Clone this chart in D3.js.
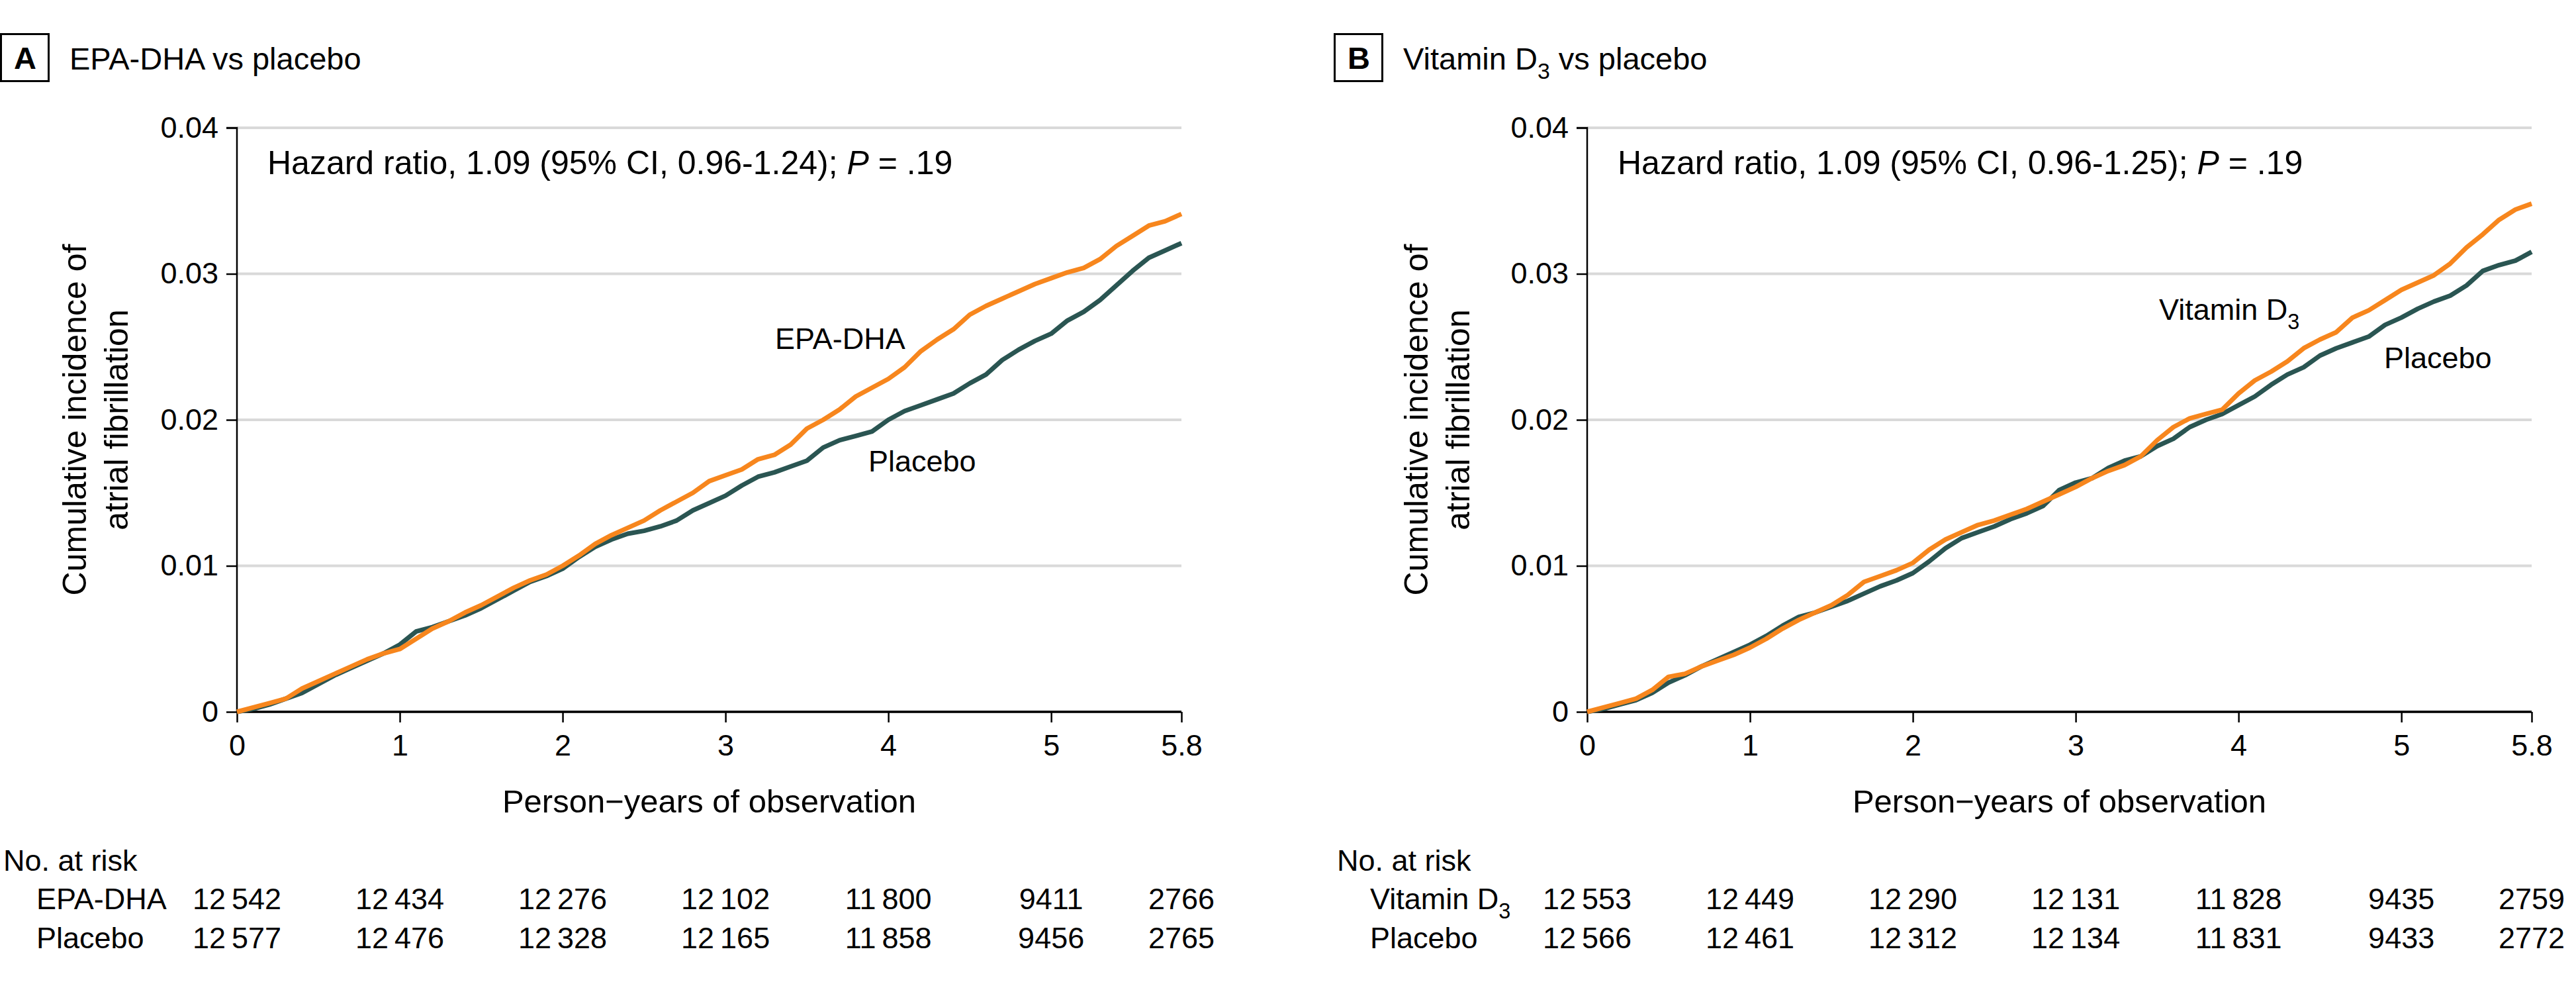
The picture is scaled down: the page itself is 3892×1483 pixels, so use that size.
<!DOCTYPE html>
<html><head><meta charset="utf-8">
<script src="https://cdn.jsdelivr.net/npm/d3@7"></script>
<style>
html,body{margin:0;padding:0;background:#fff;}
svg{display:block;font-family:"Liberation Sans",Arial,sans-serif;}
</style></head><body>
<svg id="chart" width="3892" height="1483"></svg>
<script>
// ---------- DATA ----------
const timePoints = [0,0.1,0.2,0.3,0.4,0.5,0.6,0.7,0.8,0.9,1.0,1.1,1.2,1.3,1.4,1.5,1.6,1.7,1.8,1.9,2.0,2.1,2.2,2.3,2.4,2.5,2.6,2.7,2.8,2.9,3.0,3.1,3.2,3.3,3.4,3.5,3.6,3.7,3.8,3.9,4.0,4.1,4.2,4.3,4.4,4.5,4.6,4.7,4.8,4.9,5.0,5.1,5.2,5.3,5.4,5.5,5.6,5.7,5.8];

const epaDha = [0,0.0003,0.0006,0.0009,0.0016,0.0021,0.0026,0.0031,0.0036,0.0040,0.0043,0.0050,0.0057,0.0062,0.0068,0.0073,0.0079,0.0085,0.0090,0.0094,0.0100,0.0107,0.0115,0.0121,0.0126,0.0131,0.0138,0.0144,0.0150,0.0158,0.0162,0.0166,0.0173,0.0176,0.0183,0.0194,0.0200,0.0207,0.0216,0.0222,0.0228,0.0236,0.0247,0.0255,0.0262,0.0272,0.0278,0.0283,0.0288,0.0293,0.0297,0.0301,0.0304,0.0310,0.0319,0.0326,0.0333,0.0336,0.0341];
const placeboA = [0,0.0002,0.0005,0.0009,0.0013,0.0019,0.0025,0.0030,0.0035,0.0040,0.0046,0.0055,0.0058,0.0062,0.0066,0.0071,0.0077,0.0083,0.0089,0.0093,0.0098,0.0106,0.0113,0.0118,0.0122,0.0124,0.0127,0.0131,0.0138,0.0143,0.0148,0.0155,0.0161,0.0164,0.0168,0.0172,0.0181,0.0186,0.0189,0.0192,0.0200,0.0206,0.0210,0.0214,0.0218,0.0225,0.0231,0.0241,0.0248,0.0254,0.0259,0.0268,0.0274,0.0282,0.0292,0.0302,0.0311,0.0316,0.0321];
const vitaminD = [0,0.0003,0.0006,0.0009,0.0015,0.0024,0.0026,0.0031,0.0035,0.0039,0.0044,0.0050,0.0057,0.0063,0.0068,0.0073,0.0080,0.0089,0.0093,0.0097,0.0102,0.0111,0.0118,0.0123,0.0128,0.0131,0.0135,0.0139,0.0144,0.0149,0.0154,0.0160,0.0165,0.0169,0.0175,0.0186,0.0195,0.0201,0.0204,0.0207,0.0218,0.0227,0.0233,0.0240,0.0249,0.0255,0.0260,0.0270,0.0275,0.0282,0.0289,0.0294,0.0299,0.0307,0.0318,0.0327,0.0337,0.0344,0.0348];
const placeboB = [0,0.0002,0.0005,0.0008,0.0013,0.0020,0.0025,0.0031,0.0036,0.0041,0.0046,0.0052,0.0059,0.0065,0.0068,0.0072,0.0076,0.0081,0.0086,0.0090,0.0095,0.0103,0.0112,0.0119,0.0123,0.0127,0.0132,0.0136,0.0141,0.0152,0.0157,0.0160,0.0167,0.0172,0.0175,0.0182,0.0187,0.0195,0.0200,0.0204,0.0210,0.0216,0.0224,0.0231,0.0236,0.0244,0.0249,0.0253,0.0257,0.0265,0.0270,0.0276,0.0281,0.0285,0.0292,0.0302,0.0306,0.0309,0.0315];

const xTicks = [0,1,2,3,4,5,5.8];
const xTickLabels = ["0","1","2","3","4","5","5.8"];
const yTicks = [0,0.01,0.02,0.03,0.04];
const yTickLabels = ["0","0.01","0.02","0.03","0.04"];

const riskEpaDha   = [12542,12434,12276,12102,11800,9411,2766];
const riskPlaceboA = [12577,12476,12328,12165,11858,9456,2765];
const riskVitaminD = [12553,12449,12290,12131,11828,9435,2759];
const riskPlaceboB = [12566,12461,12312,12134,11831,9433,2772];

const hrTextA = "Hazard ratio, 1.09 (95% CI, 0.96-1.24); ";
const hrTextB = "Hazard ratio, 1.09 (95% CI, 0.96-1.25); ";

// ---------- STYLE / LAYOUT ----------
const ORANGE = "#f7861d";
const DARK = "#2a5552";
const GRID = "#d9d9d9";
const plotTop = 193, plotBottom = 1075, plotWidth = 1427;

const svg = d3.select("#chart");

function fmtRisk(n){
  const s = String(n);
  return n >= 10000 ? s.slice(0, s.length-3) + "\u2009" + s.slice(-3) : s;
}

// parts: array of [text, isSub]
function addRich(sel, parts, subSize){
  parts.forEach(([t, sub], i) => {
    const ts = sel.append("tspan").text(t);
    if (sub) ts.attr("dy", 14).attr("font-size", subSize);
    else if (i > 0 && parts[i-1][1]) ts.attr("dy", -14);
  });
}

const panels = [
  {letter:"A", axisLeft:358, labelLeft:0, ytitleLeft:0,
   title:[["EPA-DHA vs placebo",false]], hr:hrTextA,
   treat:epaDha, placebo:placeboA, riskT:riskEpaDha, riskP:riskPlaceboA,
   treatName:[["EPA-DHA",false]],
   treatLbl:[813,527], placLbl:[954,712]},
  {letter:"B", axisLeft:2398, labelLeft:2015, ytitleLeft:2027,
   title:[["Vitamin D",false],["3",true],[" vs placebo",false]], hr:hrTextB,
   treat:vitaminD, placebo:placeboB, riskT:riskVitaminD, riskP:riskPlaceboB,
   treatName:[["Vitamin D",false],["3",true]],
   treatLbl:[864,483], placLbl:[1204,556]}
];

panels.forEach(p => {
  const x = d3.scaleLinear().domain([0,5.8]).range([p.axisLeft, p.axisLeft + plotWidth]);
  const y = d3.scaleLinear().domain([0,0.04]).range([plotBottom, plotTop]);
  const g = svg.append("g");

  // panel title
  const L = p.labelLeft;
  g.append("rect").attr("x", L+1.5).attr("y", 51.5).attr("width", 72).attr("height", 71)
    .attr("fill","none").attr("stroke","#000").attr("stroke-width",3);
  g.append("text").attr("x", L+38).attr("y", 104).attr("text-anchor","middle")
    .attr("font-size",47).attr("font-weight","bold").text(p.letter);
  const tt = g.append("text").attr("x", L+105).attr("y", 105).attr("font-size",47);
  addRich(tt, p.title, "0.72em");

  // gridlines
  g.append("g").selectAll("line").data(yTicks).join("line")
    .attr("x1", x(0)).attr("x2", x(5.8))
    .attr("y1", d => y(d)).attr("y2", d => y(d))
    .attr("stroke", GRID).attr("stroke-width", 4);

  // y axis
  const yAxis = d3.axisLeft(y).tickValues(yTicks).tickFormat((d,i) => yTickLabels[i])
    .tickSize(16).tickPadding(12);
  const ya = g.append("g").attr("transform", `translate(${x(0)},0)`).call(yAxis);
  ya.select(".domain").attr("stroke-width",2.5).attr("d", `M-16,${plotTop}H0V${plotBottom}`);
  ya.selectAll(".tick line").attr("stroke-width",2.5);
  ya.selectAll(".tick text").attr("font-size",45).attr("font-family",null);

  // x axis
  const xAxis = d3.axisBottom(x).tickValues(xTicks).tickFormat((d,i) => xTickLabels[i])
    .tickSize(16).tickPadding(18);
  const xa = g.append("g").attr("transform", `translate(0,${plotBottom})`).call(xAxis);
  xa.select(".domain").attr("stroke-width",3.5).attr("d", `M${x(0)},0H${x(5.8)}`);
  xa.selectAll(".tick line").attr("stroke-width",2.5);
  xa.selectAll(".tick text").attr("font-size",45).attr("font-family",null);

  // axis titles
  g.append("text").attr("x", (x(0)+x(5.8))/2).attr("y", 1227).attr("text-anchor","middle")
    .attr("font-size",49).text("Person\u2212years of observation");
  const yc = (plotTop+plotBottom)/2;
  g.append("text").attr("transform", `translate(${p.ytitleLeft+130},${yc}) rotate(-90)`)
    .attr("text-anchor","middle").attr("font-size",50).text("Cumulative incidence of");
  g.append("text").attr("transform", `translate(${p.ytitleLeft+193},${yc}) rotate(-90)`)
    .attr("text-anchor","middle").attr("font-size",50).text("atrial fibrillation");

  // curves
  const line = d3.line().x((d,i) => x(timePoints[i])).y(d => y(d));
  g.append("path").datum(p.placebo).attr("d", line).attr("fill","none")
    .attr("stroke", DARK).attr("stroke-width", 7).attr("stroke-linejoin","round");
  g.append("path").datum(p.treat).attr("d", line).attr("fill","none")
    .attr("stroke", ORANGE).attr("stroke-width", 7).attr("stroke-linejoin","round");

  // HR annotation
  const hr = g.append("text").attr("x", x(0)+46).attr("y", 263).attr("font-size",50);
  hr.append("tspan").text(p.hr);
  hr.append("tspan").attr("font-style","italic").text("P");
  hr.append("tspan").text(" = .19");

  // curve labels
  const tl = g.append("text").attr("x", p.axisLeft + p.treatLbl[0]).attr("y", p.treatLbl[1]).attr("font-size",45);
  addRich(tl, p.treatName, "0.72em");
  g.append("text").attr("x", p.axisLeft + p.placLbl[0]).attr("y", p.placLbl[1]).attr("font-size",45).text("Placebo");

  // risk table
  g.append("text").attr("x", L+5).attr("y", 1315).attr("font-size",45).text("No. at risk");
  const r1 = g.append("text").attr("x", L+55).attr("y", 1373).attr("font-size",45);
  addRich(r1, p.treatName, "0.72em");
  g.append("text").attr("x", L+55).attr("y", 1432).attr("font-size",45).text("Placebo");
  g.append("g").selectAll("text").data(p.riskT).join("text")
    .attr("x", (d,i) => x(xTicks[i])).attr("y", 1373).attr("text-anchor","middle")
    .attr("font-size",45).text(d => fmtRisk(d));
  g.append("g").selectAll("text").data(p.riskP).join("text")
    .attr("x", (d,i) => x(xTicks[i])).attr("y", 1432).attr("text-anchor","middle")
    .attr("font-size",45).text(d => fmtRisk(d));
});
</script>
</body></html>
